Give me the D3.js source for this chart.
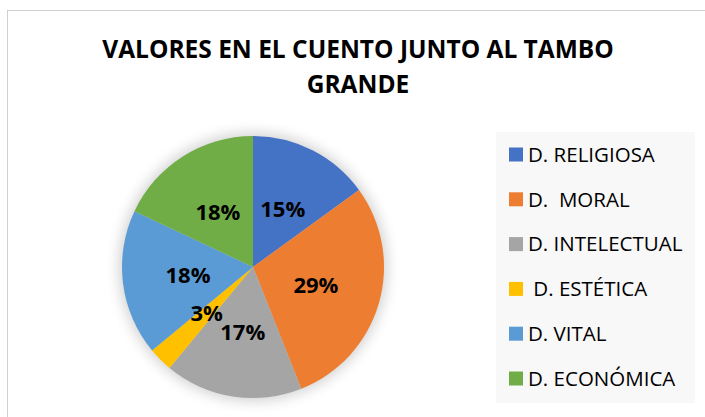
<!DOCTYPE html>
<html>
<head>
<meta charset="utf-8">
<script src="https://cdn.jsdelivr.net/npm/d3@7"></script>
<style>
  body { margin: 0; background: #fff; }
  text { font-family: "Open Sans", "Noto Sans", sans-serif; white-space: pre; }
</style>
</head>
<body>
<script>
//chart data
var categories = ["D. RELIGIOSA", "D.  MORAL", "D. INTELECTUAL", " D. ESTÉTICA", "D. VITAL", "D. ECONÓMICA"];
var values = [15, 29, 17, 3, 18, 18];
var colors = ["#4472C4", "#ED7D31", "#A5A5A5", "#FFC000", "#5B9BD5", "#70AD47"];
var titleLines = ["VALORES EN EL CUENTO JUNTO AL TAMBO", "GRANDE"];

var width = 705, height = 417;

var svg = d3.select("body").append("svg")
    .attr("width", width)
    .attr("height", height);

//soft shadow behind the pie
var defs = svg.append("defs");
var filter = defs.append("filter")
    .attr("id", "glow")
    .attr("x", "-30%").attr("y", "-30%")
    .attr("width", "160%").attr("height", "160%");
filter.append("feGaussianBlur").attr("stdDeviation", 7);

//chart frame
svg.append("rect")
    .attr("x", 7.5).attr("y", 10.5)
    .attr("width", width + 10).attr("height", height + 10)
    .attr("fill", "#fff")
    .attr("stroke", "#d0d0d0");

//title
var title = svg.append("text")
    .attr("text-anchor", "middle")
    .style("font-weight", "bold")
    .style("font-size", "24.5px")
    .attr("fill", "#000");
title.selectAll("tspan")
    .data(titleLines)
    .enter().append("tspan")
    .attr("x", 358)
    .attr("y", function(d, i){ return 58 + i * 35; })
    .text(function(d){ return d; });

//pie
var cx = 253, cy = 267, radius = 131;

var pie = d3.pie().sort(null).value(function(d){ return d; });
var arc = d3.arc().innerRadius(0).outerRadius(radius);
var labelArc = d3.arc().innerRadius(radius * 0.5).outerRadius(radius * 0.5);
var arcs = pie(values);

var g = svg.append("g").attr("transform", "translate(" + cx + "," + cy + ")");

g.append("circle")
    .attr("r", radius + 3)
    .attr("fill", "#000")
    .attr("opacity", 0.18)
    .attr("filter", "url(#glow)");

//slices first, then labels on top
g.selectAll(".slice")
    .data(arcs)
    .enter().append("path")
    .attr("class", "slice")
    .attr("d", arc)
    .attr("fill", function(d, i){ return colors[i]; });

g.selectAll(".label")
    .data(arcs)
    .enter().append("text")
    .attr("class", "label")
    .attr("transform", function(d){ return "translate(" + labelArc.centroid(d) + ")"; })
    .attr("text-anchor", "middle")
    .attr("dy", "0.36em")
    .style("font-weight", "bold")
    .style("font-size", "22px")
    .attr("fill", "#000")
    .text(function(d){ return d.data + "%"; });

//legend
var legend = svg.append("g");
legend.append("rect")
    .attr("x", 496).attr("y", 132)
    .attr("width", 199).attr("height", 271)
    .attr("fill", "#f8f8f8");

var ly = d3.scalePoint()
    .domain(d3.range(categories.length))
    .range([154.5, 378.5]);

var items = legend.selectAll(".item")
    .data(categories)
    .enter().append("g")
    .attr("class", "item")
    .attr("transform", function(d, i){ return "translate(0," + ly(i) + ")"; });

items.append("rect")
    .attr("x", 509).attr("y", -7)
    .attr("width", 14).attr("height", 14)
    .attr("fill", function(d, i){ return colors[i]; });

items.append("text")
    .attr("x", 528)
    .attr("dy", "0.36em")
    .style("font-size", "20.5px")
    .attr("fill", "#000")
    .text(function(d){ return d; });
</script>
</body>
</html>
